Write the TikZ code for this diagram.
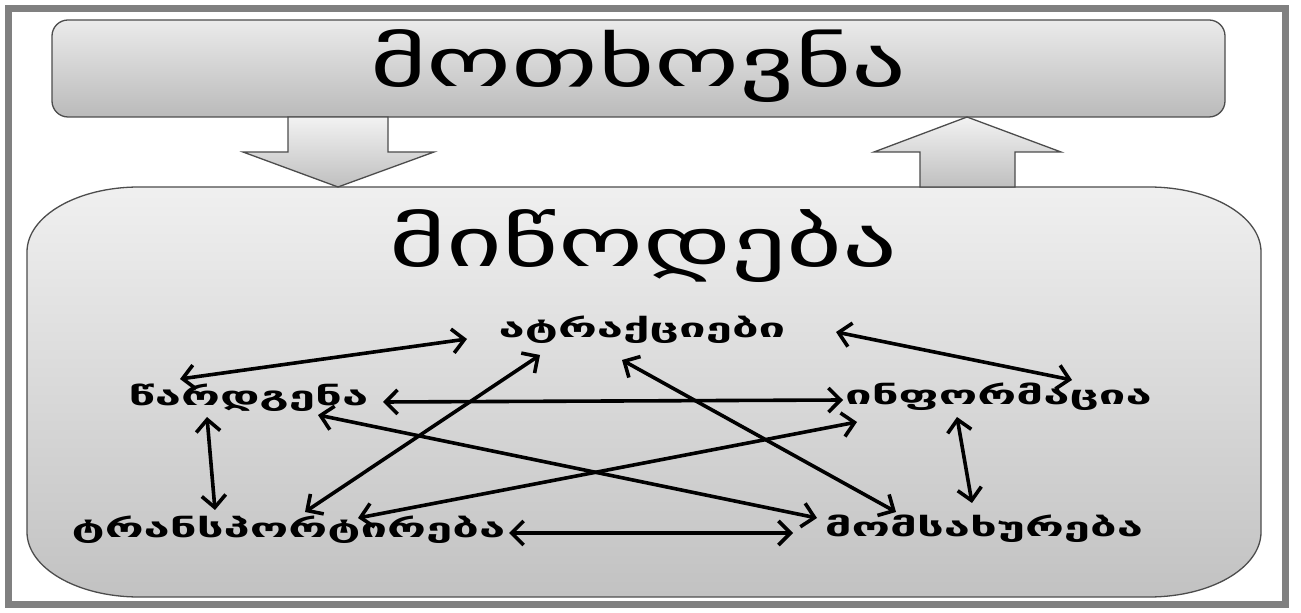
\documentclass[tikz,border=0pt]{standalone}
\usepackage{fontspec}
\newfontfamily\geotitle{DejaVu Sans}[FakeStretch=1.59]
\newfontfamily\geolabel{DejaVu Sans Bold}[FakeStretch=1.82]
\usetikzlibrary{arrows.meta}

\begin{document}
\begin{tikzpicture}[x=1pt, y=1pt, line width=1pt,
    boxline/.style={draw=black!70, line width=1.3pt},
    title/.style={font=\geotitle\fontsize{68}{68}\selectfont, inner sep=0pt, anchor=base},
    item/.style={font=\geolabel\fontsize{26}{26}\selectfont, inner sep=0pt, anchor=base},
    link/.style={{Straight Barb[length=12pt,width=24pt]}-{Straight Barb[length=12pt,width=24pt]}, line width=3.6pt}]

\useasboundingbox (0,0) rectangle (1301,613);

% outer frame
\fill[white] (0,0) rectangle (1301,613);
\draw[color=black!50, line width=7pt] (8,8) rectangle (1285,604.5);

% demand box
\node[boxline, rounded corners=16pt, top color=black!8, bottom color=black!27,
      minimum width=1173pt, minimum height=97pt, inner sep=0pt] (demandbox) at (638.5,544.5) {};
\node[title] (demand) at (638.5,526) {მოთხოვნა};

% supply box with wide corners
\path[boxline, top color=black!6, bottom color=black!24]
    (27,81) -- (27,361) arc[start angle=180, end angle=90, x radius=112, y radius=65]
    -- (1149,426) arc[start angle=90, end angle=0, x radius=112, y radius=65]
    -- (1261,81) arc[start angle=0, end angle=-90, x radius=112, y radius=65]
    -- (139,16) arc[start angle=270, end angle=180, x radius=112, y radius=65] -- cycle;
\node[title] (supply) at (643.5,346) {მიწოდება};

% block arrows between the two boxes
\path[boxline, top color=black!5, bottom color=black!25]
    (288,496) -- (288,461) -- (243,461) -- (338,426) -- (434,461) -- (388,461) -- (388,496) -- cycle;
\path[boxline, top color=black!5, bottom color=black!25]
    (920,426) -- (920,461) -- (874,461) -- (967,496) -- (1061,461) -- (1015,461) -- (1015,426) -- cycle;

% the five parts
\node[item] (atraq) at (642,275) {ატრაქციები};
\node[item] (wardg) at (248.5,207) {წარდგენა};
\node[item] (inform) at (998.5,208) {ინფორმაცია};
\node[item] (transp) at (288.5,75) {ტრანსპორტირება};
\node[item] (servic) at (984,76) {მომსახურება};

% links
\draw[link] ([shift={(-68.5,27)}]wardg.base) -- ([shift={(-175,-1)}]atraq.base);
\draw[link] ([shift={(194,6)}]atraq.base) -- ([shift={(73.5,25)}]inform.base);
\draw[link] ([shift={(134.5,4)}]wardg.base) -- ([shift={(-155.5,5)}]inform.base);
\draw[link] ([shift={(69.5,-9)}]wardg.base) -- ([shift={(-167,19)}]servic.base);
\draw[link] ([shift={(-102,-17)}]atraq.base) -- ([shift={(16.5,26)}]transp.base);
\draw[link] ([shift={(-20,-22)}]atraq.base) -- ([shift={(-88,25)}]servic.base);
\draw[link] ([shift={(-141.5,-17)}]inform.base) -- ([shift={(69.5,20)}]transp.base);
\draw[link] ([shift={(-41.5,-11)}]wardg.base) -- ([shift={(-73.5,28)}]transp.base);
\draw[link] ([shift={(-41.5,-12)}]inform.base) -- ([shift={(-12,34)}]servic.base);
\draw[link] ([shift={(220.5,5)}]transp.base) -- ([shift={(-191,4)}]servic.base);

\end{tikzpicture}
\end{document}
